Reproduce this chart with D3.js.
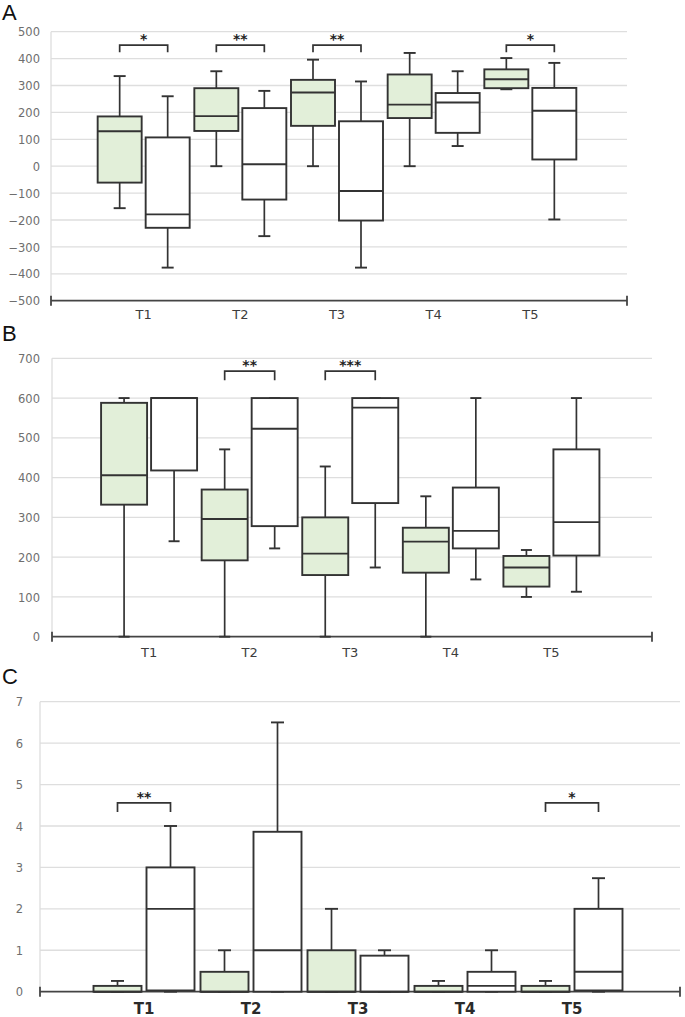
<!DOCTYPE html>
<html>
<head>
<meta charset="utf-8">
<script src="https://cdn.jsdelivr.net/npm/d3@7"></script>
<style>
  html, body { margin: 0; padding: 0; background: #fff; }
  svg { display: block; }
</style>
</head>
<body>
<svg id="chart" width="685" height="1017"></svg>
<script>
// ---------- DATA ----------
const categories = ["T1", "T2", "T3", "T4", "T5"];

// each entry: [min, q1, median, q3, max]
const aGreen = [[-156, -61, 130, 185, 335], [0, 131, 186, 290, 353], [0, 150, 274, 321, 396], [0, 179, 229, 341, 421], [286, 290, 323, 360, 402]];
const aWhite = [[-377, -229, -179, 107, 260], [-260, -124, 7, 216, 280], [-377, -202, -92, 167, 315], [75, 124, 237, 272, 353], [-198, 25, 206, 291, 384]];
const aSig = ["*", "**", "**", "", "*"];
const aTicks = [-500, -400, -300, -200, -100, 0, 100, 200, 300, 400, 500];

const bGreen = [[0, 332, 406, 588, 600], [0, 192, 296, 370, 471], [0, 155, 209, 300, 428], [0, 161, 239, 274, 353], [100, 126, 174, 203, 218]];
const bWhite = [[240, 418, 600, 600, 600], [222, 278, 523, 600, 600], [174, 336, 576, 600, 600], [144, 222, 266, 375, 600], [113, 204, 288, 471, 600]];
const bSig = ["", "**", "***", "", ""];
const bTicks = [0, 100, 200, 300, 400, 500, 600, 700];

const cGreen = [[0, 0, 0, 0.14, 0.26], [0, 0, 0, 0.48, 1.0], [0, 0, 0, 1.0, 2.0], [0, 0, 0, 0.14, 0.26], [0, 0, 0, 0.14, 0.26]];
const cWhite = [[0, 0.03, 2.0, 3.0, 4.0], [0, 0, 1.0, 3.86, 6.5], [0, 0, 0, 0.87, 1.0], [0, 0, 0.14, 0.48, 1.0], [0, 0.03, 0.48, 2.0, 2.74]];
const cSig = ["**", "", "", "", "*"];
const cTicks = [0, 1, 2, 3, 4, 5, 6, 7];

// ---------- LAYOUT ----------
const GREEN = "#e2efd9";
const STROKE = "#333";

const panels = [
  { letter: "A", letterY: 20, green: aGreen, white: aWhite, sig: aSig, ticks: aTicks,
    yDomain: [-500, 500], yRange: [300.7, 31.7], xRange: [47, 627], axisX: [51, 627],
    boxW: 44, off: 24, cap: 12, tickRight: 40, labelY: 319, labelSize: 13, labelBold: false,
    bracket: [450, 424], starSize: 14 },
  { letter: "B", letterY: 341, green: bGreen, white: bWhite, sig: bSig, ticks: bTicks,
    yDomain: [0, 700], yRange: [636.7, 358.3], xRange: [48.5, 652], axisX: [52, 652],
    boxW: 46, off: 25, cap: 11, tickRight: 40, labelY: 657, labelSize: 13, labelBold: false,
    bracket: [668, 645], starSize: 14 },
  { letter: "C", letterY: 684, green: cGreen, white: cWhite, sig: cSig, ticks: cTicks,
    yDomain: [0, 7], yRange: [991.7, 701.7], xRange: [37, 679], axisX: [40, 680],
    boxW: 48, off: 26.5, cap: 13, tickRight: 23, labelY: 1014, labelSize: 15, labelBold: true,
    bracket: [4.56, 4.34], starSize: 14 }
];

const svg = d3.select("#chart");

panels.forEach(p => {
  const g = svg.append("g");
  const y = d3.scaleLinear().domain(p.yDomain).range(p.yRange);
  const xIdx = d3.scaleLinear().domain([0, categories.length + 1]).range(p.xRange);
  const x = d3.scalePoint().domain(categories).range([xIdx(1), xIdx(categories.length)]);

  // panel letter
  g.append("text").attr("x", 2).attr("y", p.letterY)
    .attr("font-family", "Liberation Sans, Arial, sans-serif").attr("font-size", 22)
    .attr("fill", "#111").text(p.letter);

  // gridlines
  g.selectAll("line.grid").data(p.ticks.slice(1)).join("line")
    .attr("x1", p.axisX[0]).attr("x2", p.axisX[1])
    .attr("y1", d => y(d)).attr("y2", d => y(d))
    .attr("stroke", "#dedede").attr("stroke-width", 1.3);

  // faint vertical axis
  g.append("line").attr("x1", p.axisX[0]).attr("x2", p.axisX[0])
    .attr("y1", y(p.yDomain[1])).attr("y2", y(p.yDomain[0]))
    .attr("stroke", "#dedede").attr("stroke-width", 1.3);

  // y tick labels via d3 axis
  const yAxis = d3.axisLeft(y).tickValues(p.ticks).tickSize(0).tickPadding(0).tickFormat(d3.format("d"));
  const ya = g.append("g").attr("transform", `translate(${p.tickRight},0)`).call(yAxis);
  ya.select(".domain").remove();
  ya.selectAll("text").attr("font-family", "DejaVu Sans, sans-serif").attr("font-size", 11.5)
    .attr("fill", "#6e6e6e").attr("dy", "0.36em");

  // x axis line with end ticks
  const y0 = y(p.yDomain[0]);
  g.append("line").attr("x1", p.axisX[0]).attr("x2", p.axisX[1]).attr("y1", y0).attr("y2", y0)
    .attr("stroke", "#444").attr("stroke-width", 1.8);
  [p.axisX[0], p.axisX[1]].forEach(xx => {
    g.append("line").attr("x1", xx).attr("x2", xx).attr("y1", y0 - 5).attr("y2", y0 + 5)
      .attr("stroke", "#444").attr("stroke-width", 1.8);
  });

  // x labels
  g.selectAll("text.xl").data(categories).join("text")
    .attr("x", d => x(d)).attr("y", p.labelY).attr("text-anchor", "middle")
    .attr("font-family", "DejaVu Sans, sans-serif").attr("font-size", p.labelSize)
    .attr("font-weight", p.labelBold ? "bold" : "normal")
    .attr("fill", p.labelBold ? "#2a2a2a" : "#3c3c3c").text(d => d);

  // boxes
  const series = [
    { data: p.green, fill: GREEN, dx: -p.off },
    { data: p.white, fill: "#fff", dx: p.off }
  ];
  series.forEach(s => {
    s.data.forEach((st, i) => {
      const cx = x(categories[i]) + s.dx;
      const [mn, q1, md, q3, mx] = st;
      const bg = g.append("g");
      // whiskers
      bg.append("line").attr("x1", cx).attr("x2", cx).attr("y1", y(q3)).attr("y2", y(mx))
        .attr("stroke", STROKE).attr("stroke-width", 1.7);
      bg.append("line").attr("x1", cx).attr("x2", cx).attr("y1", y(q1)).attr("y2", y(mn))
        .attr("stroke", STROKE).attr("stroke-width", 1.7);
      bg.append("line").attr("x1", cx - p.cap / 2).attr("x2", cx + p.cap / 2).attr("y1", y(mx)).attr("y2", y(mx))
        .attr("stroke", STROKE).attr("stroke-width", 1.9);
      bg.append("line").attr("x1", cx - p.cap / 2).attr("x2", cx + p.cap / 2).attr("y1", y(mn)).attr("y2", y(mn))
        .attr("stroke", STROKE).attr("stroke-width", 1.9);
      // box
      bg.append("rect").attr("x", cx - p.boxW / 2).attr("width", p.boxW)
        .attr("y", y(q3)).attr("height", Math.max(0, y(q1) - y(q3)))
        .attr("fill", s.fill).attr("stroke", STROKE).attr("stroke-width", 1.9);
      // median
      bg.append("line").attr("x1", cx - p.boxW / 2).attr("x2", cx + p.boxW / 2)
        .attr("y1", y(md)).attr("y2", y(md))
        .attr("stroke", STROKE).attr("stroke-width", 1.9);
    });
  });

  // significance brackets
  p.sig.forEach((s, i) => {
    if (!s) return;
    const xl = x(categories[i]) - p.off, xr = x(categories[i]) + p.off;
    const yt = y(p.bracket[0]), yb = y(p.bracket[1]);
    g.append("path").attr("d", `M${xl},${yb}V${yt}H${xr}V${yb}`)
      .attr("fill", "none").attr("stroke", STROKE).attr("stroke-width", 1.7);
    g.append("text").attr("x", (xl + xr) / 2).attr("y", yt - 1).attr("text-anchor", "middle")
      .attr("font-family", "DejaVu Sans, sans-serif").attr("font-size", p.starSize)
      .attr("font-weight", "bold").attr("fill", "#222").text(s);
  });
});
</script>
</body>
</html>
